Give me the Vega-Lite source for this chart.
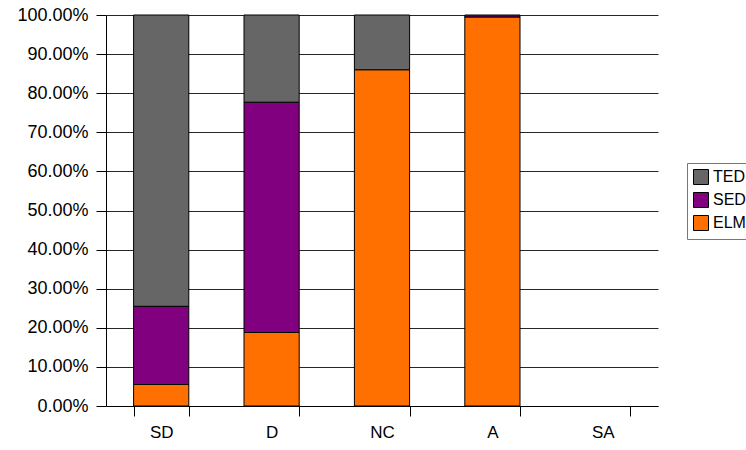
{
  "$schema": "https://vega.github.io/schema/vega-lite/v6.json",
  "width": 552,
  "height": 391,
  "autosize": {"type": "none"},
  "padding": {"left": 106, "top": 15, "right": 88, "bottom": 44},
  "background": "white",
  "config": {
    "view": {"stroke": null},
    "font": "Liberation Sans"
  },
  "data": {
    "values": [
      {"category": "SD", "series": "ELM", "value": 0.055},
      {"category": "SD", "series": "SED", "value": 0.2},
      {"category": "SD", "series": "TED", "value": 0.745},
      {"category": "D", "series": "ELM", "value": 0.188},
      {"category": "D", "series": "SED", "value": 0.589},
      {"category": "D", "series": "TED", "value": 0.223},
      {"category": "NC", "series": "ELM", "value": 0.86},
      {"category": "NC", "series": "TED", "value": 0.14},
      {"category": "A", "series": "ELM", "value": 0.995},
      {"category": "A", "series": "SED", "value": 0.005}
    ]
  },
  "mark": {"type": "bar", "stroke": "black", "strokeWidth": 1},
  "encoding": {
    "x": {
      "field": "category",
      "type": "nominal",
      "scale": {"domain": ["SD", "D", "NC", "A", "SA"], "paddingInner": 0.5, "paddingOuter": 0.25},
      "axis": {
        "title": null,
        "labelAngle": 0,
        "tickBand": "extent",
        "tickSize": 10,
        "tickColor": "black",
        "domainColor": "black",
        "labelFontSize": 17,
        "labelColor": "black",
        "labelPadding": 8
      }
    },
    "y": {
      "field": "value",
      "type": "quantitative",
      "stack": "zero",
      "scale": {"domain": [0, 1], "nice": false},
      "axis": {
        "title": null,
        "format": ".2%",
        "values": [0, 0.1, 0.2, 0.3, 0.4, 0.5, 0.6, 0.7, 0.8, 0.9, 1],
        "grid": true,
        "gridColor": "black",
        "gridOpacity": 0.85,
        "tickSize": 10,
        "tickColor": "black",
        "domainColor": "black",
        "labelFontSize": 18,
        "labelColor": "black",
        "labelPadding": 8
      }
    },
    "order": {"field": "series", "sort": "ascending"},
    "color": {
      "field": "series",
      "type": "nominal",
      "scale": {"domain": ["TED", "SED", "ELM"], "range": ["#666666", "#800080", "#ff7000"]},
      "legend": {
        "title": null,
        "orient": "none",
        "legendX": 581,
        "legendY": 148,
        "strokeColor": "#777777",
        "fillColor": "white",
        "padding": 6,
        "symbolType": "square",
        "symbolSize": 225,
        "symbolStrokeColor": "black",
        "symbolStrokeWidth": 1,
        "symbolOpacity": 1,
        "labelFontSize": 16,
        "labelColor": "black",
        "labelOffset": 4,
        "rowPadding": 3
      }
    }
  }
}
